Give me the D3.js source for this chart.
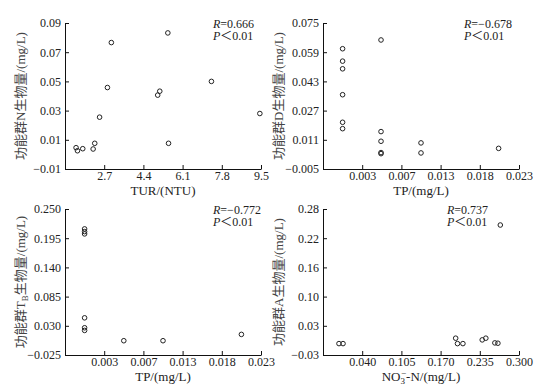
<!DOCTYPE html>
<html>
<head>
<meta charset="utf-8">
<script src="https://cdn.jsdelivr.net/npm/d3@7/dist/d3.min.js"></script>
<style>
  html, body { margin: 0; padding: 0; background: #fff; }
  svg text { font-family: "Liberation Serif", "Noto Sans CJK SC", serif; }
</style>
</head>
<body>
<svg id="chart" width="548" height="390"></svg>
<script>
// panel A: TUR vs functional group N
const turX = [1.48, 1.54, 1.77, 2.22, 2.29, 2.50, 2.84, 3.01, 5.02, 5.11, 5.46, 5.49, 7.35, 9.45];
const groupN = [0.0046, 0.0025, 0.0039, 0.0037, 0.0076, 0.0255, 0.0458, 0.0766, 0.0406, 0.0433, 0.0832, 0.0076, 0.0500, 0.0280];
const turTicks = [2.7, 4.4, 6.1, 7.8, 9.5];
const turLabels = ['2.7', '4.4', '6.1', '7.8', '9.5'];
const nTicks = [-0.01, 0.01, 0.03, 0.05, 0.07, 0.09];
const nLabels = ['\u22120.01', '0.01', '0.03', '0.05', '0.07', '0.09'];

// panel B: TP vs functional group D
const tpD = [0.0000, 0.0000, 0.0000, 0.0000, 0.0000, 0.0000, 0.0049, 0.0049, 0.0049, 0.0049, 0.0049, 0.0100, 0.0100, 0.0199];
const groupD = [0.0609, 0.0541, 0.0499, 0.0357, 0.0206, 0.0171, 0.0657, 0.0155, 0.0102, 0.0040, 0.0034, 0.0093, 0.0038, 0.0063];
const tpTicks = [0.0025, 0.0075, 0.0125, 0.0175, 0.0225];
const tpLabels = ['0.003', '0.007', '0.013', '0.018', '0.023'];
const dTicks = [-0.005, 0.011, 0.027, 0.043, 0.059, 0.075];
const dLabels = ['\u22120.005', '0.011', '0.027', '0.043', '0.059', '0.075'];

// panel C: TP vs functional group TB
const tpTB = [0.0000, 0.0000, 0.0000, 0.0000, 0.0000, 0.0000, 0.0050, 0.0100, 0.0200];
const groupTB = [0.2125, 0.2074, 0.2031, 0.0450, 0.0263, 0.0213, 0.0019, 0.0019, 0.0138];
const tbTicks = [-0.025, 0.030, 0.085, 0.140, 0.195, 0.250];
const tbLabels = ['\u22120.025', '0.030', '0.085', '0.140', '0.195', '0.250'];

// panel D: NO3-N vs functional group A
const no3 = [0.0015, 0.0082, 0.195, 0.198, 0.207, 0.239, 0.245, 0.260, 0.265, 0.269];
const groupA = [-0.0058, -0.0058, 0.0057, -0.0058, -0.0058, 0.0021, 0.0057, -0.0043, -0.0050, 0.246];
const no3Ticks = [0.040, 0.105, 0.170, 0.235, 0.300];
const no3Labels = ['0.040', '0.105', '0.170', '0.235', '0.300'];
const aTicks = [-0.03, 0.032, 0.094, 0.156, 0.218, 0.28];
const aLabels = ['\u22120.03', '0.03', '0.10', '0.16', '0.22', '0.28'];

const stats = [
  { r: '0.666', p: '0.01' },
  { r: '\u22120.678', p: '0.01' },
  { r: '\u22120.772', p: '0.01' },
  { r: '0.737', p: '0.01' }
];

const svg = d3.select('#chart');
svg.append('rect').attr('width', 548).attr('height', 390).attr('fill', '#fff');

const panels = [
  { left: 65, top: 23, statX: 148, x: turX, y: groupN, xDom: [1.0, 9.5], yDom: [-0.01, 0.09],
    xt: turTicks, xl: turLabels, yt: nTicks, yl: nLabels, stat: stats[0],
    xTitle: [['TUR/(NTU)']], yTitle: [['功能群N生物量/(mg/L)']] },
  { left: 323, top: 23, statX: 141, x: tpD, y: groupD, xDom: [-0.0025, 0.0225], yDom: [-0.005, 0.075],
    xt: tpTicks, xl: tpLabels, yt: dTicks, yl: dLabels, stat: stats[1],
    xTitle: [['TP/(mg/L)']], yTitle: [['功能群D生物量/(mg/L)']] },
  { left: 65, top: 209, statX: 148, x: tpTB, y: groupTB, xDom: [-0.0025, 0.0225], yDom: [-0.025, 0.25],
    xt: tpTicks, xl: tpLabels, yt: tbTicks, yl: tbLabels, stat: stats[2],
    xTitle: [['TP/(mg/L)']], yTitle: [['功能群T'], ['B', 'sub'], ['生物量/(mg/L)', 'back']] },
  { left: 323, top: 209, statX: 124, x: no3, y: groupA, xDom: [-0.025, 0.300], yDom: [-0.03, 0.28],
    xt: no3Ticks, xl: no3Labels, yt: aTicks, yl: aLabels, stat: stats[3],
    xTitle: [['NO'], ['3', 'sub'], ['\u2212', 'sup'], ['-N/(mg/L)', 'back']], yTitle: [['功能群A生物量/(mg/L)']] }
];

const W = 196, H = 146;

// rich text helper: parts are [text, kind]
function addParts(textSel, parts) {
  let shift = 0;
  parts.forEach(([t, kind]) => {
    const ts = textSel.append('tspan').text(t);
    if (kind === 'sub') {
      ts.attr('dy', 3 - shift).attr('font-size', '9px'); shift = 3;
    } else if (kind === 'sup') {
      // superscript sits right over the subscript
      ts.attr('dy', -5 - shift).attr('dx', -4).attr('font-size', '9px'); shift = -5;
    } else if (kind === 'back') {
      ts.attr('dy', -shift); shift = 0;
    }
  });
}

panels.forEach(p => {
  const g = svg.append('g').attr('transform', `translate(${p.left},${p.top})`);
  const x = d3.scaleLinear().domain(p.xDom).range([0, W]);
  const y = d3.scaleLinear().domain(p.yDom).range([H, 0]);

  // X axis, ticks pointing up
  const xa = g.append('g')
    .attr('transform', `translate(0,${H})`)
    .call(d3.axisBottom(x).tickValues(p.xt).tickSizeInner(-4).tickSizeOuter(0)
      .tickFormat((d, i) => p.xl[i]));
  // Y axis, ticks pointing right
  const ya = g.append('g')
    .call(d3.axisLeft(y).tickValues(p.yt).tickSizeInner(-4).tickSizeOuter(0)
      .tickFormat((d, i) => p.yl[i]));

  [xa, ya].forEach(a => {
    a.select('.domain').attr('stroke', '#111').attr('stroke-width', 1);
    a.selectAll('.tick line').attr('stroke', '#111');
    a.selectAll('text').attr('fill', '#222').attr('font-size', '12px');
  });
  xa.selectAll('text').attr('y', 2);
  ya.selectAll('text').attr('x', -4);

  // points
  g.selectAll('circle')
    .data(p.x.map((v, i) => [v, p.y[i]]))
    .join('circle')
    .attr('cx', d => x(d[0]))
    .attr('cy', d => y(d[1]))
    .attr('r', 2.3)
    .attr('fill', 'none')
    .attr('stroke', '#222')
    .attr('stroke-width', 1);

  // axis titles
  const xt = g.append('text')
    .attr('x', W / 2).attr('y', H + 26)
    .attr('text-anchor', 'middle')
    .attr('font-size', '13px').attr('fill', '#222');
  addParts(xt, p.xTitle);

  const yt = g.append('text')
    .attr('transform', `translate(-40,${H / 2}) rotate(-90)`)
    .attr('text-anchor', 'middle')
    .attr('font-size', '13px').attr('fill', '#444');
  addParts(yt, p.yTitle);

  // R / P annotation
  const rText = g.append('text')
    .attr('x', p.statX).attr('y', 5)
    .attr('font-size', '12px').attr('fill', '#222');
  rText.append('tspan').attr('font-style', 'italic').text('R');
  rText.append('tspan').text('=' + p.stat.r);
  const pText = g.append('text')
    .attr('x', p.statX).attr('y', 17)
    .attr('font-size', '12px').attr('fill', '#222');
  pText.append('tspan').attr('font-style', 'italic').text('P');
  pText.append('tspan').text('\uff1c' + p.stat.p);
});
</script>
</body>
</html>
